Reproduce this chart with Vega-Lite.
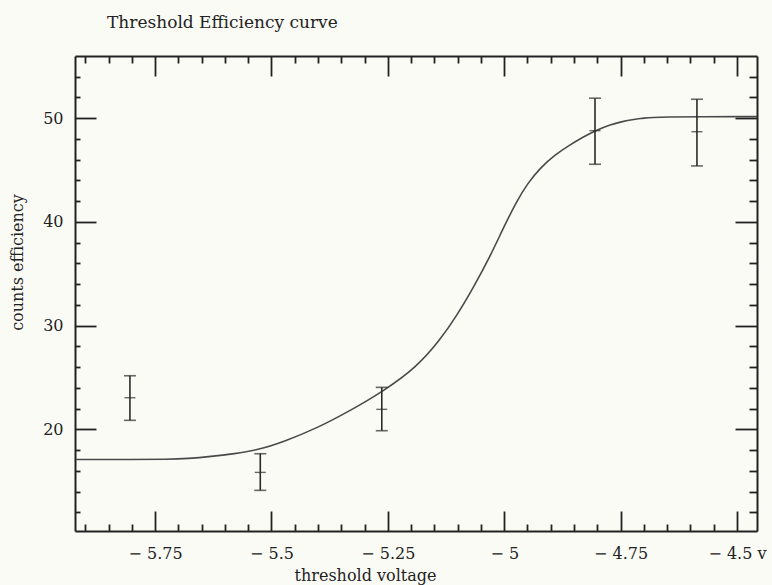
{
  "$schema": "https://vega.github.io/schema/vega-lite/v6.json",
  "width": 682,
  "height": 475,
  "autosize": "none",
  "padding": {"left": 75, "top": 56, "right": 15, "bottom": 54},
  "background": "#fbfbf6",
  "title": {
    "text": "Threshold Efficiency curve",
    "anchor": "start",
    "frame": "group",
    "dx": 32,
    "offset": 10,
    "baseline": "alphabetic",
    "font": "DejaVu Serif",
    "fontSize": 17,
    "fontWeight": "normal",
    "color": "#222222"
  },
  "config": {
    "view": {"stroke": null},
    "axis": {
      "labelFont": "DejaVu Serif",
      "labelFontSize": 16,
      "labelColor": "#222222",
      "titleFont": "DejaVu Serif",
      "titleFontSize": 16,
      "titleFontWeight": "normal",
      "titleColor": "#222222",
      "domainColor": "#222222",
      "domainWidth": 2,
      "tickColor": "#222222",
      "tickWidth": 1.8,
      "grid": false,
      "labelOverlap": false,
      "labelFlush": false,
      "labelBound": false
    }
  },
  "datasets": {
    "curve": [
      {"v": -5.92, "e": 17.1},
      {"v": -5.8, "e": 17.1},
      {"v": -5.72, "e": 17.1},
      {"v": -5.68, "e": 17.18},
      {"v": -5.63, "e": 17.38},
      {"v": -5.58, "e": 17.65},
      {"v": -5.53, "e": 18.0},
      {"v": -5.474, "e": 18.8},
      {"v": -5.403, "e": 20.1},
      {"v": -5.331, "e": 21.8},
      {"v": -5.259, "e": 23.7},
      {"v": -5.188, "e": 26.0},
      {"v": -5.138, "e": 28.6},
      {"v": -5.1, "e": 31.1},
      {"v": -5.066, "e": 33.7},
      {"v": -5.03, "e": 36.7},
      {"v": -5.0, "e": 39.6},
      {"v": -4.973, "e": 42.0},
      {"v": -4.95, "e": 43.7},
      {"v": -4.923, "e": 45.2},
      {"v": -4.89, "e": 46.5},
      {"v": -4.86, "e": 47.4},
      {"v": -4.83, "e": 48.2},
      {"v": -4.805, "e": 48.8},
      {"v": -4.77, "e": 49.4},
      {"v": -4.75, "e": 49.65},
      {"v": -4.72, "e": 49.9},
      {"v": -4.7, "e": 50.0},
      {"v": -4.68, "e": 50.15},
      {"v": -4.457, "e": 50.15}
    ],
    "points": [
      {"v": -5.804, "mid": 23.05, "lo": 20.87, "hi": 25.17},
      {"v": -5.524, "mid": 15.85, "lo": 14.12, "hi": 17.65},
      {"v": -5.263, "mid": 21.93, "lo": 19.87, "hi": 24.05},
      {"v": -4.805, "mid": 48.8, "lo": 45.56, "hi": 51.93},
      {"v": -4.586, "mid": 48.7, "lo": 45.4, "hi": 51.83}
    ]
  },
  "layer": [
    {
      "data": {"name": "curve"},
      "mark": {"type": "line", "color": "#4a4a4a", "strokeWidth": 1.6, "interpolate": "basis", "clip": true},
      "encoding": {
        "x": {
          "field": "v", "type": "quantitative",
          "scale": {"domain": [-5.922, -4.457], "nice": false, "zero": false},
          "axis": {
            "orient": "bottom",
            "title": "threshold voltage",
            "titleX": 290,
            "titleY": 49,
            "titleBaseline": "alphabetic",
            "titleAlign": "center",
            "values": [-5.9, -5.85, -5.8, -5.75, -5.7, -5.65, -5.6, -5.55, -5.5, -5.45, -5.4, -5.35, -5.3, -5.25, -5.2, -5.15, -5.1, -5.05, -5.0, -4.95, -4.9, -4.85, -4.8, -4.75, -4.7, -4.65, -4.6, -4.55, -4.5],
            "tickSize": {"condition": {"test": "abs(datum.value*4 - round(datum.value*4)) < 0.000001", "value": -20}, "value": -7},
            "labelPadding": 34,
            "labelExpr": "abs(datum.value*4 - round(datum.value*4)) < 0.000001 ? '− ' + format(-datum.value, '.3~f') + (abs(datum.value + 4.5) < 0.000001 ? ' v' : '') : ''"
          }
        },
        "y": {
          "field": "e", "type": "quantitative",
          "scale": {"domain": [10.2, 56], "nice": false, "zero": false},
          "axis": {
            "orient": "left",
            "title": "counts efficiency",
            "titleAngle": -90,
            "titleX": -53,
            "titleY": 206,
            "titleBaseline": "alphabetic",
            "titleAlign": "center",
            "values": [12, 14, 16, 18, 20, 22, 24, 26, 28, 30, 32, 34, 36, 38, 40, 42, 44, 46, 48, 50, 52, 54],
            "tickSize": {"condition": {"test": "datum.value % 10 === 0", "value": -21}, "value": -5},
            "labelPadding": 33,
            "labelExpr": "datum.value % 10 === 0 ? format(datum.value, 'd') : ''"
          }
        }
      }
    },
    {
      "data": {"name": "points"},
      "mark": {"type": "rule", "color": "#2a2a2a", "strokeWidth": 1.6},
      "encoding": {
        "x": {
          "field": "v", "type": "quantitative",
          "axis": {
            "orient": "top",
            "title": null,
            "labels": false,
            "values": [-5.9, -5.85, -5.8, -5.75, -5.7, -5.65, -5.6, -5.55, -5.5, -5.45, -5.4, -5.35, -5.3, -5.25, -5.2, -5.15, -5.1, -5.05, -5.0, -4.95, -4.9, -4.85, -4.8, -4.75, -4.7, -4.65, -4.6, -4.55, -4.5],
            "tickSize": {"condition": {"test": "abs(datum.value*4 - round(datum.value*4)) < 0.000001", "value": -20}, "value": -7}
          }
        },
        "y": {
          "field": "lo", "type": "quantitative",
          "axis": {
            "orient": "right",
            "title": null,
            "labels": false,
            "values": [12, 14, 16, 18, 20, 22, 24, 26, 28, 30, 32, 34, 36, 38, 40, 42, 44, 46, 48, 50, 52, 54],
            "tickSize": {"condition": {"test": "datum.value % 10 === 0", "value": -22}, "value": -8}
          }
        },
        "y2": {"field": "hi"}
      }
    },
    {
      "data": {"name": "points"},
      "mark": {"type": "tick", "orient": "horizontal", "color": "#2a2a2a", "size": 12, "thickness": 1.6},
      "encoding": {
        "x": {"field": "v", "type": "quantitative", "axis": null},
        "y": {"field": "lo", "type": "quantitative", "axis": null}
      }
    },
    {
      "data": {"name": "points"},
      "mark": {"type": "tick", "orient": "horizontal", "color": "#2a2a2a", "size": 12, "thickness": 1.6},
      "encoding": {
        "x": {"field": "v", "type": "quantitative", "axis": null},
        "y": {"field": "hi", "type": "quantitative", "axis": null}
      }
    },
    {
      "data": {"name": "points"},
      "mark": {"type": "tick", "orient": "horizontal", "color": "#2a2a2a", "size": 11, "thickness": 1.4},
      "encoding": {
        "x": {"field": "v", "type": "quantitative", "axis": null},
        "y": {"field": "mid", "type": "quantitative", "axis": null}
      }
    }
  ],
  "resolve": {"axis": {"x": "independent", "y": "independent"}}
}
